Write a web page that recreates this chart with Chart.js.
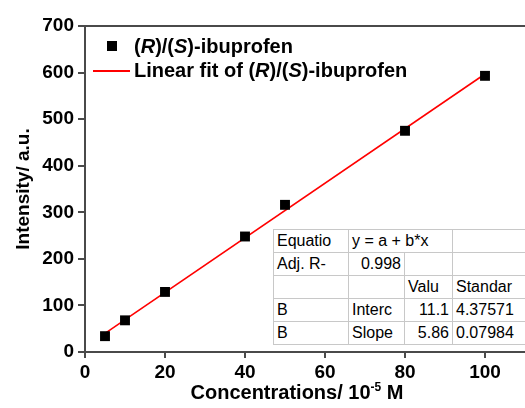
<!DOCTYPE html>
<html>
<head>
<meta charset="utf-8">
<script src="https://cdn.jsdelivr.net/npm/chart.js@4/dist/chart.umd.min.js"></script>
<style>
  html, body { margin: 0; padding: 0; background: #fff; }
  #wrap { position: relative; width: 525px; height: 408px; overflow: hidden; font-family: "Liberation Sans", Arial, sans-serif; }
  #chart { position: absolute; left: 0; top: 0; }
  .legend { position: absolute; left: 0; top: 0; font-weight: bold; font-size: 20px; color: #000; }
  .legend .row { position: absolute; white-space: nowrap; height: 24px; line-height: 24px; }
  .legend .sq { position: absolute; width: 10px; height: 10px; background: #000; }
  .legend .ln { position: absolute; height: 2px; background: #ff0000; }
  .xtitle { position: absolute; left: 0; width: 594px; top: 381px; text-align: center; font-weight: bold; font-size: 20px; white-space: nowrap; }
  .xtitle sup { font-size: 12px; vertical-align: 8px; line-height: 0; }
  table.stats { position: absolute; left: 273px; top: 229px; border-collapse: collapse; table-layout: fixed; width: 264px; background: #fff; font-size: 16px; border: 1.5px solid #333; }
  table.stats td { border: 1px solid #c8c8c8; height: 22px; padding: 0 3px; white-space: nowrap; overflow: hidden; line-height: 22px; }
  table.stats td.num { text-align: right; }
</style>
</head>
<body>
<div id="wrap">
  <canvas id="chart" width="525" height="408"></canvas>
  <div class="legend">
    <div class="sq" style="left:107px; top:41px;"></div>
    <div class="row" style="left:134px; top:34px;">(<i>R</i>)/(<i>S</i>)-ibuprofen</div>
    <div class="ln" style="left:93px; width:37px; top:70px;"></div>
    <div class="row" style="left:134px; top:58px;">Linear fit of (<i>R</i>)/(<i>S</i>)-ibuprofen</div>
  </div>
  <div class="xtitle">Concentrations/ 10<sup>-5</sup> M</div>
  <table class="stats">
    <colgroup><col style="width:75px"><col style="width:56px"><col style="width:48px"><col style="width:85px"></colgroup>
    <tr><td>Equatio</td><td colspan="2">y = a + b*x</td><td></td></tr>
    <tr><td>Adj. R-</td><td class="num">0.998</td><td></td><td></td></tr>
    <tr><td></td><td></td><td>Valu</td><td>Standar</td></tr>
    <tr><td>B</td><td>Interc</td><td class="num">11.1</td><td>4.37571</td></tr>
    <tr><td>B</td><td>Slope</td><td class="num">5.86</td><td>0.07984</td></tr>
  </table>
</div>
<script>
// data
const concentrations = [5, 10, 20, 40, 50, 80, 100];
const intensities = [34, 68, 129, 248, 316, 475, 593];
const fitX = [5, 100];
const fitY = [40, 597];
const xTicks = [0, 20, 40, 60, 80, 100];

const axisColor = '#4a4a4a';
const tickFont = { family: 'Liberation Sans, Arial, sans-serif', size: 19, weight: 'bold' };

// top frame line
const frameTop = {
  id: 'frameTop',
  afterDraw(chart) {
    const a = chart.chartArea;
    const c = chart.ctx;
    c.save();
    c.strokeStyle = axisColor;
    c.lineWidth = 2;
    c.beginPath();
    c.moveTo(a.left - 1, a.top);
    c.lineTo(a.right + 5, a.top);
    c.stroke();
    c.restore();
  }
};

const ctx = document.getElementById('chart').getContext('2d');
new Chart(ctx, {
  type: 'scatter',
  data: {
    datasets: [
      {
        label: 'Linear fit',
        data: fitX.map((x, i) => ({ x: x, y: fitY[i] })),
        showLine: true,
        borderColor: '#ff0000',
        borderWidth: 1.6,
        pointRadius: 0,
        fill: false,
        order: 2
      },
      {
        label: '(R)/(S)-ibuprofen',
        data: concentrations.map((x, i) => ({ x: x, y: intensities[i] })),
        pointStyle: 'rect',
        pointRadius: 7,
        backgroundColor: '#000',
        borderColor: '#000',
        borderWidth: 0,
        order: 1
      }
    ]
  },
  options: {
    responsive: false,
    animation: false,
    layout: { autoPadding: false, padding: { top: 26, right: 0, left: 0, bottom: 0 } },
    plugins: { legend: { display: false }, tooltip: { enabled: false } },
    scales: {
      x: {
        type: 'linear',
        min: 0,
        max: 110,
        afterBuildTicks: (scale) => { scale.ticks = xTicks.map(v => ({ value: v })); },
        afterFit: (scale) => { scale.height = 56; scale.paddingLeft = 0; scale.paddingRight = 0; },
        grid: { display: true, drawOnChartArea: false, drawTicks: true, tickLength: 6, color: axisColor, lineWidth: 2 },
        border: { display: true, color: axisColor, width: 2 },
        ticks: { color: '#000', font: tickFont, padding: 3, maxRotation: 0 }
      },
      y: {
        min: 0,
        max: 700,
        afterFit: (scale) => { scale.width = 85; scale.paddingTop = 0; scale.paddingBottom = 0; },
        grid: { display: true, drawOnChartArea: false, drawTicks: true, tickLength: 7, color: axisColor, lineWidth: 2 },
        border: { display: true, color: axisColor, width: 2 },
        ticks: { stepSize: 100, color: '#000', font: tickFont, padding: 4 },
        title: {
          display: true,
          text: 'Intensity/ a.u.',
          color: '#000',
          font: { family: 'Liberation Sans, Arial, sans-serif', size: 19, weight: 'bold' },
          padding: { top: 12, bottom: 0 }
        }
      }
    }
  },
  plugins: [frameTop]
});
</script>
</body>
</html>
